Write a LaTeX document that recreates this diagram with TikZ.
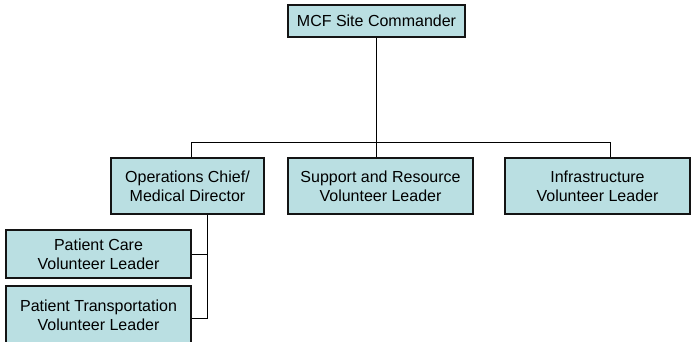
\documentclass[tikz,border=0pt]{standalone}
\usepackage{fontspec}
\setmainfont{Liberation Sans}
\definecolor{boxfill}{RGB}{186,223,226}
\definecolor{boxline}{RGB}{20,20,20}
\begin{document}
\begin{tikzpicture}[x=1pt,y=-1pt,
  orgbox/.style={draw=boxline,line width=1.1pt,fill=boxfill,rectangle,
    inner sep=0pt,align=center,font=\fontsize{16}{18.6}\selectfont,text=black},
  link/.style={draw=black,line width=0.9pt}]
\useasboundingbox (0,0) rectangle (691,341);

% positions of the boxes (centre, width, height)
\node[orgbox,minimum width=177pt,minimum height=32pt] (top) at (376.5,21) {MCF Site Commander};
\node[orgbox,minimum width=153pt,minimum height=56pt] (ops) at (187.5,186) {Operations Chief/\\Medical Director};
\node[orgbox,minimum width=185pt,minimum height=56pt] (support) at (380.5,186) {Support and Resource\\Volunteer Leader};
\node[orgbox,minimum width=185pt,minimum height=56pt] (infra) at (597.5,186) {Infrastructure\\Volunteer Leader};
\node[orgbox,minimum width=185pt,minimum height=48pt] (pcare) at (98.5,254) {Patient Care\\Volunteer Leader};
\node[orgbox,minimum width=185pt,minimum height=58pt] (ptrans) at (98.5,315) {Patient Transportation\\Volunteer Leader};

% bus between the top box and the second row
\coordinate (busL) at (191,142);
\coordinate (busR) at (610,142);
\coordinate (opsdrop) at (207,318);

\draw[link] (top.south) -- (top.south |- support.north);
\draw[link] (busL |- ops.north) -- (busL) -- (busR) -- (busR |- infra.north);

% branch under the operations box
\draw[link] (opsdrop |- ops.south) -- (opsdrop) -- (ptrans.east |- opsdrop);
\draw[link] (pcare.east) -- (pcare.east -| opsdrop);
\end{tikzpicture}
\end{document}
